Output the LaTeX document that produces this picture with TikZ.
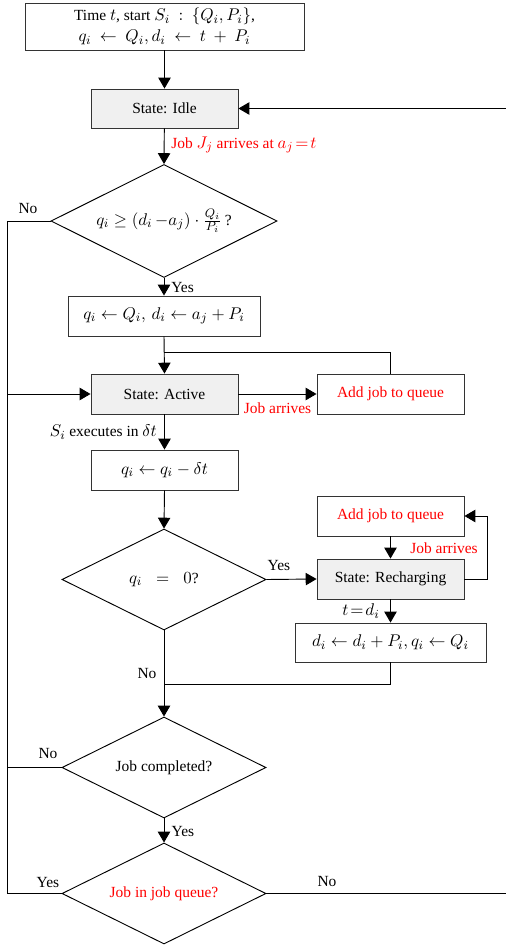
\documentclass[tikz,border=0pt]{standalone}
\usepackage{fontspec}
\setmainfont[Scale=0.885]{Liberation Serif}
\usetikzlibrary{shapes.geometric,arrows.meta}
\def\pxu{0.6464pt}
\tikzset{
  fnt/.style={font=\fontsize{11.3}{13.6}\selectfont},
  base/.style={draw=black!80, line width=0.6pt, inner sep=0pt, align=center, fnt},
  box/.style={base, rectangle, minimum width=#1*\pxu, minimum height=40*\pxu},
  statebox/.style={box=#1, fill=black!6},
  dec/.style={base, diamond, aspect=2, draw=black},
  arr/.style={line width=0.6pt, -{Triangle[width=8pt,length=7pt]}},
  ln/.style={line width=0.6pt},
  lbl/.style={inner sep=0pt, fnt},
  rlbl/.style={lbl, text=red},
}
\begin{document}
\begin{tikzpicture}[x=\pxu, y=-\pxu]
\useasboundingbox (0,0) rectangle (506,948);
% nodes
\node[box=279, minimum height=47*\pxu] (start) at (164.5,26.5)
  {Time $t$, start $S_i\ :\ \{Q_i, P_i\}$,\\ $q_i\ \leftarrow\ Q_i, d_i\ \leftarrow\ t\ +\ P_i$};
\node[statebox=147, minimum height=39*\pxu] (idle) at (164.5,108.5) {State: Idle};
\node[dec, minimum width=226*\pxu, minimum height=113*\pxu] (d1) at (164,221)
  {$q_i \geq (d_i\,{-}a_j)\cdot \frac{Q_i}{P_i}\,$?};
\node[box=192] (b3) at (164,316) {$q_i \leftarrow Q_i,\, d_i \leftarrow a_j + P_i$};
\node[statebox=147] (active) at (164.5,394) {State: Active};
\node[box=147, text=red] (q1) at (390.5,394) {Add job to queue};
\node[box=147] (dt) at (164.5,470) {$q_i \leftarrow q_i - \delta t$};
\node[dec, minimum width=204*\pxu, minimum height=101*\pxu] (d2) at (164,579.5)
  {$q_i \;\;=\;\; 0$?};
\node[box=147, text=red] (q2) at (390.5,516) {Add job to queue};
\node[statebox=147] (rech) at (390.5,579) {State: Recharging};
\node[box=191, minimum height=39*\pxu] (bd) at (390.5,642.5) {$d_i \leftarrow d_i + P_i, q_i \leftarrow Q_i$};
\node[dec, minimum width=204*\pxu, minimum height=101*\pxu] (d3) at (164,767.5) {Job completed?};
\node[dec, minimum width=204*\pxu, minimum height=101*\pxu, text=red] (d4) at (164,893.5) {Job in job queue?};
% helper coordinates
\coordinate (xl) at (7,0);
\coordinate (rin) at (506,108.5);
\coordinate (rout) at (506,893.5);
\coordinate (join) at (164,352);
\coordinate (merge) at (164,684);
\coordinate (xr) at (487,0);
% connectors
\draw[arr] (start) -- (idle);
\draw[arr] (rin) -- (idle.east);
\draw[arr] (idle) -- (d1.north);
\node[rlbl, anchor=west] (lj) at (171,145) {Job $J_j$ arrives at $a_j\!=\!t$};
\draw[ln] (d1.west) -- (xl |- d1.west) -- (xl |- d4.west) -- (d4.west);
\draw[ln] (d3.west) -- (xl |- d3.west);
\draw[arr] (xl |- active.west) -- (active.west);
\node[lbl] (no1) at (28,209) {No};
\draw[arr] (d1.south) -- (b3.north);
\node[lbl, anchor=west] (yes1) at (171,288) {Yes};
\draw[arr] (b3.south) -- (active.north);
\draw[ln] (q1.north) |- (join);
\draw[arr] (active.east) -- (q1.west);
\node[rlbl] (ja1) at (277.5,408) {Job arrives};
\draw[arr] (active.south) -- (dt.north);
\node[lbl, anchor=east] (ex) at (157,432) {$S_i$ executes in $\delta t$};
\draw[arr] (dt.south) -- (d2.north);
\draw[arr] (d2.east) -- (rech.west);
\node[lbl] (yes2) at (279,566) {Yes};
\draw[arr] (q2.south) -- (rech.north);
\draw[arr] (rech.east) -- (xr |- rech.east) |- (q2.east);
\node[rlbl] (ja2) at (444,548) {Job arrives};
\draw[arr] (rech.south) -- (bd.north);
\node[lbl] (tdi) at (361,611) {$t\!=\!d_i$};
\draw[ln] (bd.south) |- (merge);
\draw[arr] (d2.south) -- (d3.north);
\node[lbl] (no2) at (147,674) {No};
\node[lbl] (no3) at (48,754) {No};
\draw[arr] (d3.south) -- (d4.north);
\node[lbl] (yes3) at (183,831) {Yes};
\node[lbl] (yes4) at (48,882) {Yes};
\draw[ln] (d4.east) -- (rout);
\node[lbl] (no4) at (327,881) {No};
\end{tikzpicture}
\end{document}
